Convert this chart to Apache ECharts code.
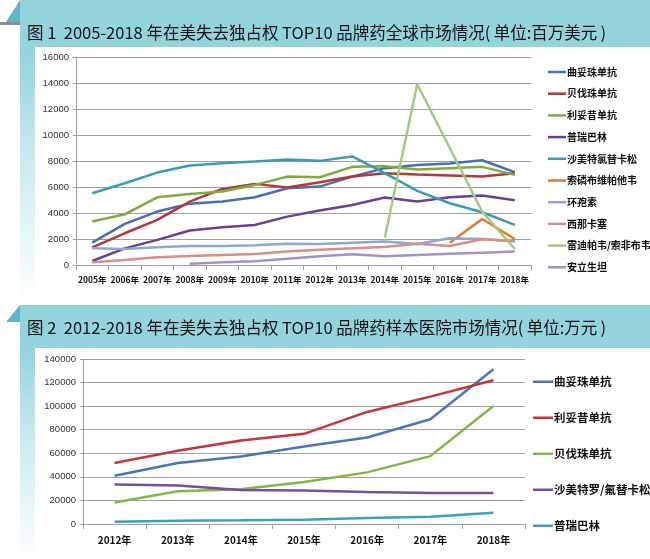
<!DOCTYPE html>
<html><head><meta charset="utf-8">
<script src="https://cdn.jsdelivr.net/npm/echarts@6/dist/echarts.min.js"></script>
<style>html,body{margin:0;padding:0;background:#fff}#c{width:650px;height:559px}</style>
</head><body><div id="c"></div>
<script>
// ---------- Chart 1 data (百万美元) ----------
const years1 = ['2005年','2006年','2007年','2008年','2009年','2010年','2011年','2012年','2013年','2014年','2015年','2016年','2017年','2018年'];
const names1 = ['曲妥珠单抗','贝伐珠单抗','利妥昔单抗','普瑞巴林','沙美特氯替卡松','索磷布维帕他韦','环孢素','西那卡塞','雷迪帕韦/索非布韦','安立生坦'];
const trastuzumab1 = [1720,3160,4110,4720,4880,5210,5900,6030,6800,7450,7700,7800,8060,7140];
const bevacizumab1 = [1360,2440,3470,4880,5850,6240,5960,6370,6800,7060,6960,6880,6800,7060];
const rituximab1   = [3340,3900,5210,5470,5650,6160,6800,6750,7550,7600,7350,7450,7550,6930];
const pregabalin1  = [310,1280,1930,2650,2900,3080,3720,4190,4620,5190,4880,5210,5340,4980];
const seretide1    = [5520,6290,7110,7650,7830,7960,8110,8010,8350,7060,5700,4750,4060,3080];
const sofvel1      = [null,null,null,null,null,null,null,null,null,null,null,1720,3540,2000];
const ciclosporin1 = [1280,1230,1360,1460,1460,1515,1640,1620,1720,1800,1620,2050,2000,1800];
const cinacalcet1  = [205,385,590,690,770,850,1030,1180,1280,1390,1640,1460,1980,1850];
const ledisof1     = [null,null,null,null,null,null,null,null,null,2100,13900,9000,4100,1230];
const ambrisentan1 = [null,null,null,100,205,280,490,670,820,670,770,870,950,1030];
const values1 = [trastuzumab1,bevacizumab1,rituximab1,pregabalin1,seretide1,sofvel1,ciclosporin1,cinacalcet1,ledisof1,ambrisentan1];
const colors1 = ['#4a6db0','#b5373a','#7cac3c','#6b3f98','#3a9bb8','#e07b2a','#8ea6d6','#d98c8c','#a6c87e','#a58fc6'];
const yTicks1 = {min:0,max:16000,interval:2000};

// ---------- Chart 2 data (万元) ----------
const years2 = ['2012年','2013年','2014年','2015年','2016年','2017年','2018年'];
const names2 = ['曲妥珠单抗','利妥昔单抗','贝伐珠单抗','沙美特罗/氟替卡松','普瑞巴林'];
const trastuzumab2 = [40900,51700,57300,65800,73400,88900,131300];
const rituximab2   = [51700,62100,70900,76500,95100,108100,122000];
const bevacizumab2 = [18300,27700,29400,35600,43800,57600,100200];
const seretide2    = [33600,32700,28800,28500,27100,26300,26300];
const pregabalin2  = [2000,2800,3100,3700,5100,6200,9600];
const values2 = [trastuzumab2,rituximab2,bevacizumab2,seretide2,pregabalin2];
const colors2 = ['#4a74be','#c0363a','#7dba44','#7a4aa0','#3aa0c0'];
const yTicks2 = {min:0,max:140000,interval:20000};

const title1 = '图 1  2005-2018 年在美失去独占权 TOP10 品牌药全球市场情况(\u2009单位:百万美元\u2009)';
const title2 = '图 2  2012-2018 年在美失去独占权 TOP10 品牌药样本医院市场情况(\u2009单位:万元\u2009)';

const chart = echarts.init(document.getElementById('c'), null, {renderer:'canvas'});
const teal = '#93d4dc';
function band(y0, h){
  return {type:'rect', z:0, shape:{x:20,y:y0,width:630,height:h},
    style:{fill:new echarts.graphic.LinearGradient(0,0,0,1,[
      {offset:0,color:teal},{offset:0.18,color:teal},{offset:0.5,color:'#c6e9ed'},{offset:1,color:'#ffffff'}])}};
}
const graphics = [
  band(0, 300),
  {type:'polygon', z:1, shape:{points:[[20,0],[6,22],[20,22]]}, style:{fill:'#5cb6c8'}},
  {type:'rect', z:1, shape:{x:0,y:22,width:20,height:3}, style:{fill:'#8c8c8c'}},
  {type:'rect', z:1, shape:{x:35,y:47,width:615,height:246}, style:{fill:'#ffffff'}},
  {type:'text', z:2, x:27, y:33, style:{text:title1, fill:'#111', font:'16.5px "Noto Sans CJK SC"', textVerticalAlign:'middle'}},
  band(305, 254),
  {type:'polygon', z:1, shape:{points:[[20,305],[6,322],[20,322]]}, style:{fill:'#5cb6c8'}},
  {type:'rect', z:1, shape:{x:35,y:348,width:615,height:211}, style:{fill:'#ffffff'}},
  {type:'text', z:2, x:27, y:328, style:{text:title2, fill:'#111', font:'16.5px "Noto Sans CJK SC"', textVerticalAlign:'middle'}}
];

const series = [];
names1.forEach((n,i)=>series.push({name:n,type:'line',xAxisIndex:0,yAxisIndex:0,data:values1[i],
  showSymbol:false,symbol:'none',connectNulls:false,z:5,lineStyle:{width:2.5,color:colors1[i]},itemStyle:{color:colors1[i]}}));
names2.forEach((n,i)=>series.push({name:n+' ',type:'line',xAxisIndex:1,yAxisIndex:1,data:values2[i],
  showSymbol:false,symbol:'none',z:5,lineStyle:{width:2.5,color:colors2[i]},itemStyle:{color:colors2[i]}}));

const gridColor = '#a0a0a0';
function yAx(idx, t){
  return {type:'value',gridIndex:idx,min:t.min,max:t.max,interval:t.interval,z:4,
    axisLine:{show:true,lineStyle:{color:'#a0a0a0',width:1}},
    axisTick:{show:true,length:3,lineStyle:{color:'#a0a0a0'}},
    splitLine:{show:true,lineStyle:{color:gridColor,width:1}},
    axisLabel:{color:'#333',fontSize:9.5,fontFamily:'Liberation Sans',margin:7,formatter:v=>String(v)}};
}
function xAx(idx, cats, fs){
  return {type:'category',gridIndex:idx,data:cats,boundaryGap:true,z:4,
    axisLine:{lineStyle:{color:'#a0a0a0',width:1}},
    axisTick:{show:true,length:5,interval:0,lineStyle:{color:'#a0a0a0'}},
    axisLabel:{color:'#111',fontSize:fs,fontWeight:'bold',fontFamily:'Noto Sans CJK SC',margin:11,interval:0}};
}

chart.setOption({
  animation:false,
  backgroundColor:'#ffffff',
  graphic:graphics,
  grid:[
    {left:76,right:119,top:57,bottom:294,containLabel:false},
    {left:83,right:125,top:359,bottom:35,containLabel:false}
  ],
  xAxis:[xAx(0,years1,8.5), xAx(1,years2,10)],
  yAxis:[yAx(0,yTicks1), yAx(1,yTicks2)],
  legend:[
    {orient:'vertical',left:543,top:62,itemWidth:18,itemHeight:2.5,itemGap:11.7,icon:'rect',
     data:names1,textStyle:{fontSize:10,fontWeight:'bold',color:'#111',fontFamily:'Noto Sans CJK SC',padding:[0,0,0,-4]},selectedMode:false},
    {orient:'vertical',left:528,top:371,itemWidth:20,itemHeight:2.5,itemGap:24.5,icon:'rect',
     data:names2.map(n=>n+' '),textStyle:{fontSize:11.5,fontWeight:'bold',color:'#111',fontFamily:'Noto Sans CJK SC',padding:[0,0,0,-4]},selectedMode:false}
  ],
  series:series
});
</script></body></html>
